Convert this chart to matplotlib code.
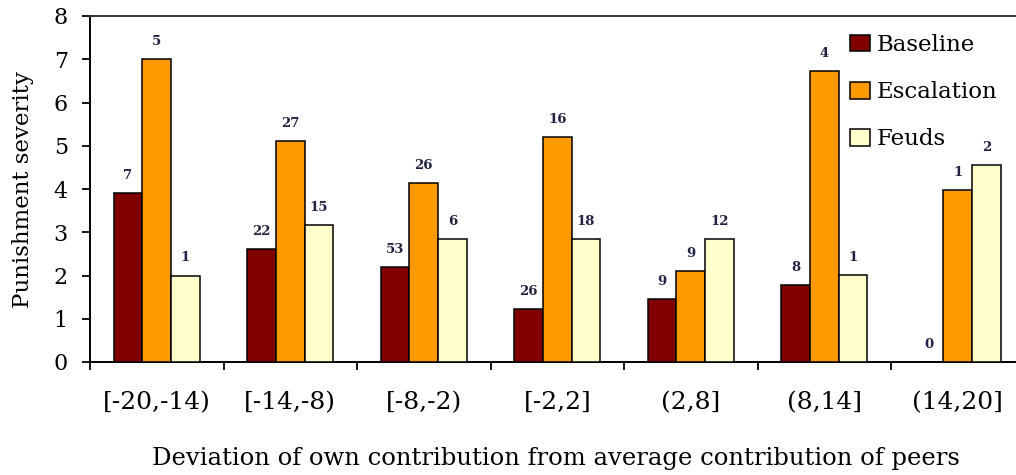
import numpy as np
import matplotlib
matplotlib.use("Agg")
import matplotlib.pyplot as plt

plt.rcParams.update({"font.family": "DejaVu Serif"})

categories = ["[-20,-14)", "[-14,-8)", "[-8,-2)", "[-2,2]", "(2,8]", "(8,14]", "(14,20]"]
series = ["Baseline", "Escalation", "Feuds"]
baseline = [3.91, 2.61, 2.20, 1.23, 1.46, 1.78, 0.0]
escalation = [7.0, 5.11, 4.14, 5.20, 2.10, 6.73, 3.98]
feuds = [2.0, 3.17, 2.84, 2.84, 2.84, 2.01, 4.55]
n_baseline = [7, 22, 53, 26, 9, 8, 0]
n_escalation = [5, 27, 26, 16, 9, 4, 1]
n_feuds = [1, 15, 6, 18, 12, 1, 2]

colors = ["#800000", "#FF9900", "#FFFFCC"]

fig = plt.figure(figsize=(10.16, 4.75), dpi=100)
ax = fig.add_axes([90 / 1016, 113 / 475, 934.5 / 1016, 346 / 475])

x = np.arange(len(categories)) + 0.5
w = 0.215
for i, (vals, counts) in enumerate(zip([baseline, escalation, feuds],
                                       [n_baseline, n_escalation, n_feuds])):
    xs = x + (i - 1) * w
    ax.bar(xs, vals, w, color=colors[i], edgecolor="black", linewidth=1.1,
           label=series[i], zorder=3)
    for xi, v, c in zip(xs, vals, counts):
        ax.annotate(str(c), (xi, v), xytext=(0, 8), textcoords="offset points",
                    ha="center", va="bottom", fontsize=9.5, color="#222244",
                    fontweight="bold")

ax.set_xlim(0, len(categories))
ax.set_ylim(0, 8)
ax.set_yticks(range(0, 9))
ax.tick_params(axis="y", direction="out", length=6, width=1.3, pad=10,
               labelsize=16)
ax.set_xticks(range(0, len(categories) + 1))
ax.set_xticklabels([])
ax.tick_params(axis="x", which="major", direction="out", length=6, width=1.3)
ax.set_xticks(x, minor=True)
ax.set_xticklabels(categories, minor=True, fontsize=18)
ax.tick_params(axis="x", which="minor", length=0, pad=21)

for s in ["left", "bottom", "top"]:
    ax.spines[s].set_linewidth(1.4)
ax.spines["top"].set_color("#333333")
ax.spines["right"].set_visible(False)

ax.set_ylabel("Punishment severity", fontsize=16.5)
ax.yaxis.set_label_coords(-0.06, 0.5)
fig.text(556 / 1016, 1 - 458 / 475,
         "Deviation of own contribution from average contribution of peers",
         ha="center", va="center", fontsize=17.5)

ax.legend(loc="upper left", bbox_to_anchor=(850 / 1016, 1 - 34 / 475),
          bbox_transform=fig.transFigure, frameon=False, fontsize=16.5,
          handlelength=0.87, handleheight=0.75, handletextpad=0.28,
          labelspacing=1.1, borderpad=0, borderaxespad=0)

fig.savefig("out.png", dpi=100)
